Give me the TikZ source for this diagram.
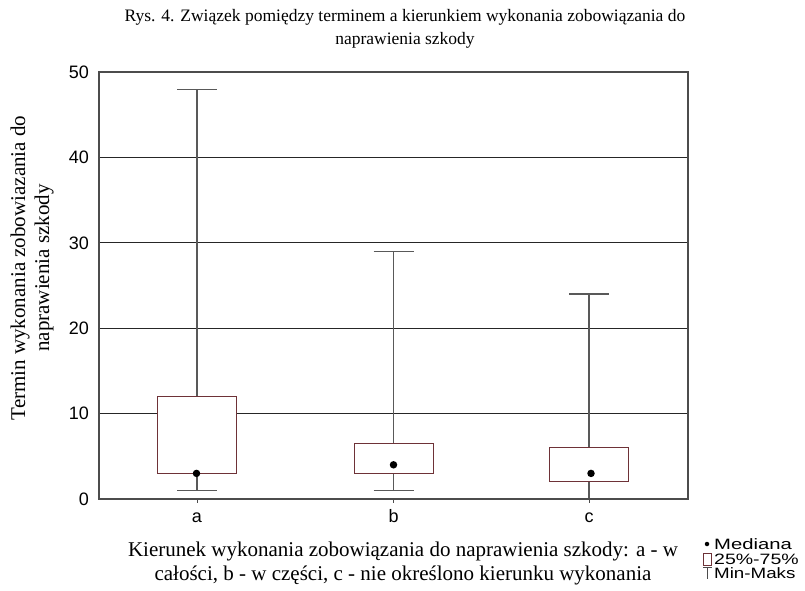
\documentclass[tikz,border=0pt]{standalone}
\usepackage{fontspec}
\setmainfont{Liberation Serif}
\newfontfamily\arialf{Liberation Sans}
\begin{document}
\begin{tikzpicture}[x=1pt,y=-1pt,
  serift/.style={font=\fontsize{17.5}{23}\selectfont, align=center, inner sep=0pt},
  axtitle/.style={font=\fontsize{21}{24}\selectfont, align=center, inner sep=0pt},
  numlab/.style={font=\arialf\fontsize{18}{18}\selectfont, inner sep=0pt},
  leglab/.style={font=\arialf\fontsize{15}{15}\selectfont, inner sep=0pt, anchor=west},
  grid/.style={draw=black!85, line width=1pt},
  frame/.style={draw=black!70, line width=1.2pt},
  whisk/.style={draw=black!65, line width=1.1pt},
  boxq/.style={draw=boxc, fill=white, line width=1pt},
  med/.style={fill=black, circle, inner sep=0pt, minimum size=7.5pt}]
\definecolor{boxc}{RGB}{110,50,55}
\useasboundingbox (0,0) rectangle (805,590);
\fill[white] (0,0) rectangle (805,590);
% title
\node[serift] (title) at (405,29) {Rys. 4. Związek pomiędzy terminem a kierunkiem wykonania zobowiązania do\\naprawienia szkody};
% gridlines
\foreach \yy in {413.6,328.2,242.8,157.4}{\draw[grid] (99,\yy) -- (688,\yy);}
% whiskers
\foreach \xx/\mn/\mx in {197/490.5/89.1, 393.5/490.5/251.3, 589/499/294}{
  \draw[whisk] (\xx,\mn) -- (\xx,\mx);
  \draw[whisk] (\xx-20,\mn) -- (\xx+20,\mn);
  \draw[whisk] (\xx-20,\mx) -- (\xx+20,\mx);
}
% boxes
\draw[boxq] (157.5,473.4) rectangle (236.5,396.5);
\draw[boxq] (354,473.4) rectangle (433,443.5);
\draw[boxq] (549.5,481.9) rectangle (628.5,447.8);
% medians
\node[med] (ma) at (196.5,473.4) {};
\node[med] (mb) at (393.5,464.8) {};
\node[med] (mc) at (591,473.4) {};
% frame
\draw[frame] (99,72) rectangle (688,499);
\foreach \xx in {197,393.5,589}{\draw[frame,line width=1pt] (\xx,499) -- (\xx,502.5);}
% y tick labels
\foreach \v/\yy in {0/499,10/413.6,20/328.2,30/242.8,40/157.4,50/72}{
  \node[numlab, anchor=east] at (89,\yy) {\v};
}
% x tick labels
\node[numlab, anchor=base] (la) at (197,522) {a};
\node[numlab, anchor=base] (lb) at (393.5,522) {b};
\node[numlab, anchor=base] (lc) at (589,522) {c};
% axis titles
\node[axtitle, rotate=90] (ytitle) at (32,268) {Termin wykonania zobowiazania do\\naprawienia szkody};
\node[axtitle] (xtitle) at (403,563) {Kierunek wykonania zobowiązania do naprawienia szkody: a - w\\całości, b - w części, c - nie określono kierunku wykonania};
% legend
\node[fill=black, circle, inner sep=0pt, minimum size=4.5pt] (ld) at (707,544) {};
\draw[draw=boxc, line width=0.8pt] (703,553) rectangle (711.5,565);
\draw[black!70, line width=0.9pt] (703,567) -- (712,567);
\draw[black!70, line width=0.9pt] (707.5,567) -- (707.5,579);
\node[leglab] (l1) at (714,544) {\scalebox{1.35}[1]{Mediana}};
\node[leglab] (l2) at (714,559) {\scalebox{1.3}[1]{25\%-75\%}};
\node[leglab] (l3) at (714,573.5) {\scalebox{1.25}[1]{Min-Maks}};
\end{tikzpicture}
\end{document}
